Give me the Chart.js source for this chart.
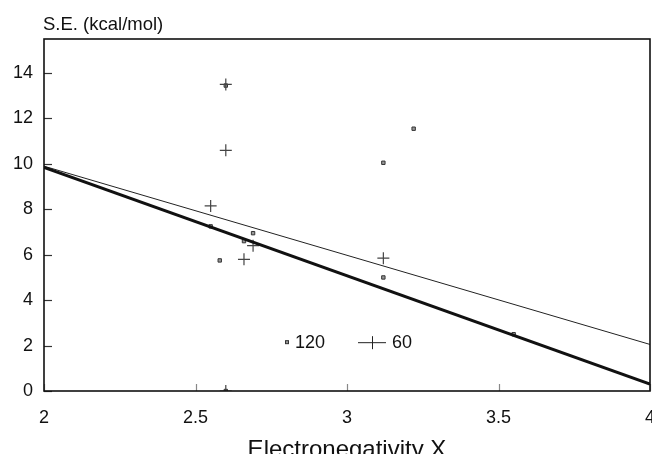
<!DOCTYPE html>
<html>
<head>
<meta charset="utf-8">
<script src="https://cdn.jsdelivr.net/npm/chart.js@4.4.1/dist/chart.umd.min.js"></script>
<style>
  html, body { margin: 0; padding: 0; background: #fff; }
</style>
</head>
<body>
<canvas id="chart" width="652" height="454"></canvas>
<script>
/* ---- data ---- */

// series "120" (small squares)
const eneg120 = [2.60, 3.12, 3.22, 2.55, 2.58, 2.66, 2.69, 3.12, 3.55, 2.60];
const se120   = [13.45, 10.05, 11.55, 7.25, 5.75, 6.6, 6.95, 5.0, 2.5, 0];

// series "60" (crosses)
const eneg60 = [2.60, 2.60, 2.55, 2.66, 2.69, 3.12, 2.60];
const se60   = [13.5, 10.6, 8.15, 5.8, 6.4, 5.85, 0];

// fitted lines
const fitX   = [2, 4];
const fit120 = [9.85, 0.3];
const fit60  = [9.9, 2.05];

const xTicks = [2, 2.5, 3, 3.5, 4];
const yTicks = [0, 2, 4, 6, 8, 10, 12, 14];

const legendLabels = ["120", "60"];
const yTitle = "S.E. (kcal/mol)";
const xTitle = "Electronegativity X";

const FONT = "'Liberation Sans', Arial, sans-serif";

const toPts = (xs, ys) => xs.map((x, i) => ({ x: x, y: ys[i] }));

/* ---- frame, inward ticks, legend, y title ---- */
const decor = {
  id: "decor",
  afterDraw(chart) {
    const ctx = chart.ctx;
    const a = chart.chartArea;
    const xs = chart.scales.x;
    const ys = chart.scales.y;
    ctx.save();

    // inward tick marks
    ctx.strokeStyle = "#333";
    ctx.lineWidth = 1.2;
    yTicks.forEach(v => {
      const py = Math.round(ys.getPixelForValue(v)) + 0.5;
      ctx.beginPath();
      ctx.moveTo(a.left, py);
      ctx.lineTo(a.left + 8, py);
      ctx.stroke();
    });
    ctx.strokeStyle = "#888";
    xTicks.forEach(v => {
      const px = Math.round(xs.getPixelForValue(v)) + 0.5;
      ctx.beginPath();
      ctx.moveTo(px, a.bottom);
      ctx.lineTo(px, a.bottom - 7);
      ctx.stroke();
    });

    // frame
    ctx.strokeStyle = "#111";
    ctx.lineWidth = 1.6;
    ctx.strokeRect(a.left, a.top, a.right - a.left, a.bottom - a.top);

    // y title
    ctx.fillStyle = "#111";
    ctx.font = "18.5px " + FONT;
    ctx.textAlign = "left";
    ctx.textBaseline = "alphabetic";
    ctx.fillText(yTitle, 43, 30);

    // legend inside plot
    const ly = ys.getPixelForValue(2.15);
    ctx.font = "18px " + FONT;
    ctx.textBaseline = "middle";
    ctx.fillStyle = "#999";
    ctx.strokeStyle = "#333";
    ctx.lineWidth = 1;
    ctx.fillRect(285.5, ly - 1.5, 3, 3);
    ctx.strokeRect(285.5, ly - 1.5, 3, 3);
    ctx.fillStyle = "#111";
    ctx.fillText(legendLabels[0], 295, ly + 1);

    ctx.strokeStyle = "#222";
    ctx.beginPath();
    ctx.moveTo(358, ly + 0.5);
    ctx.lineTo(386, ly + 0.5);
    ctx.moveTo(372.5, ly - 6);
    ctx.lineTo(372.5, ly + 7);
    ctx.stroke();
    ctx.fillText(legendLabels[1], 392, ly + 1);

    ctx.restore();
  }
};

new Chart(document.getElementById("chart"), {
  type: "scatter",
  data: {
    datasets: [
      {
        label: "fit 120",
        type: "line",
        data: toPts(fitX, fit120),
        borderColor: "#111",
        borderWidth: 3,
        pointRadius: 0,
        fill: false
      },
      {
        label: "fit 60",
        type: "line",
        data: toPts(fitX, fit60),
        borderColor: "#222",
        borderWidth: 1,
        pointRadius: 0,
        fill: false
      },
      {
        label: legendLabels[1],
        data: toPts(eneg60, se60),
        pointStyle: "cross",
        pointRadius: 6,
        borderColor: "#444",
        borderWidth: 1.2
      },
      {
        label: legendLabels[0],
        data: toPts(eneg120, se120),
        pointStyle: "rect",
        pointRadius: 2.4,
        backgroundColor: "#999",
        borderColor: "#333",
        borderWidth: 1
      }
    ]
  },
  options: {
    responsive: false,
    animation: false,
    layout: { autoPadding: false, padding: { left: 0, right: 2, top: 39, bottom: 0 } },
    plugins: {
      legend: { display: false },
      tooltip: { enabled: false }
    },
    scales: {
      x: {
        type: "linear",
        min: 2,
        max: 4,
        afterBuildTicks: s => { s.ticks = xTicks.map(v => ({ value: v })); },
        afterFit: s => { s.height = 63; s.paddingLeft = 0; s.paddingRight = 0; },
        grid: { display: false, drawTicks: false },
        border: { display: false },
        ticks: {
          font: { family: FONT, size: 18 },
          color: "#111",
          padding: 16,
          maxRotation: 0,
          callback: v => String(v)
        },
        title: {
          display: true,
          text: xTitle,
          font: { family: FONT, size: 24 },
          color: "#111",
          padding: { top: 12, bottom: -11 }
        }
      },
      y: {
        min: 0,
        max: 15.5,
        afterBuildTicks: s => { s.ticks = yTicks.map(v => ({ value: v })); },
        afterFit: s => { s.width = 44; },
        grid: { display: false, drawTicks: false },
        border: { display: false },
        ticks: {
          font: { family: FONT, size: 18 },
          color: "#111",
          padding: 11
        }
      }
    }
  },
  plugins: [decor]
});
</script>
</body>
</html>
